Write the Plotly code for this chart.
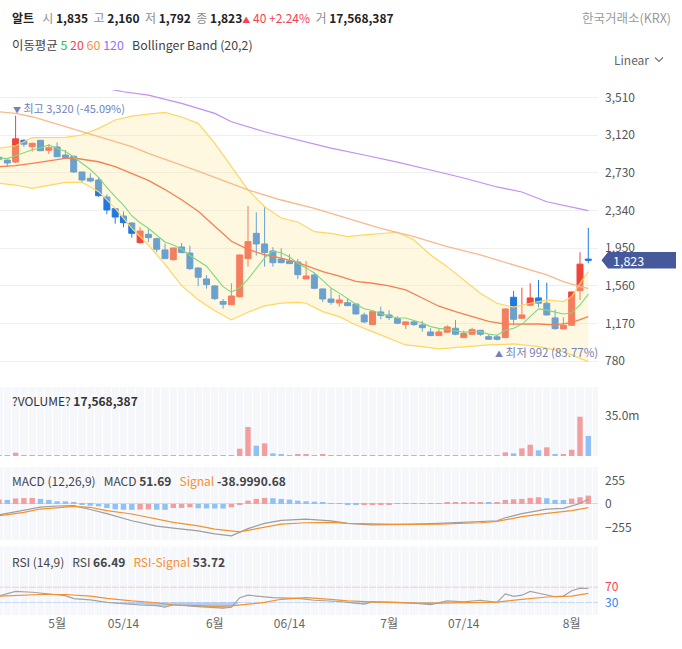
import numpy as np
import pandas as pd
import plotly.graph_objects as go
from plotly.subplots import make_subplots

# ---- data -------------------------------------------------------------
# KRX sessions shown on the chart (holidays / missing session removed)
closed_days = ["2021-05-05", "2021-05-19", "2021-06-24"]
dates = [d.strftime("%Y-%m-%d") for d in pd.bdate_range("2021-04-22", "2021-08-04")
         if d.strftime("%Y-%m-%d") not in closed_days]

opens = [2890, 2860, 2840, 3065, 2999, 3065, 2961, 2996, 2913, 2900,
         2737, 2672, 2654, 2478, 2357, 2281, 2209, 2005, 2092, 2047,
         1930, 1829, 1961, 1898, 1743, 1630, 1557, 1395, 1363, 1446,
         1840, 2102, 1992, 1919, 1836, 1816, 1805, 1630, 1671, 1526,
         1422, 1381, 1384, 1370, 1257, 1157, 1288, 1257, 1219, 1157,
         1185, 1153, 1081, 1043, 1078, 1119, 1022, 1057, 1098, 1032,
         1030, 1022, 1440, 1222, 1357, 1433, 1378, 1226, 1112, 1150,
         1508, 1835]
highs = [2900, 2865, 3320, 3075, 3040, 3068, 3024, 3044, 2965, 2905,
         2740, 2723, 2685, 2506, 2362, 2330, 2215, 2168, 2144, 2057,
         1995, 1952, 2002, 1974, 1750, 1671, 1567, 1422, 1585, 1880,
         2385, 2320, 2375, 1958, 1947, 1885, 1836, 1816, 1695, 1530,
         1529, 1464, 1422, 1375, 1281, 1295, 1343, 1305, 1243, 1188,
         1205, 1195, 1119, 1119, 1150, 1205, 1095, 1126, 1100, 1057,
         1050, 1326, 1505, 1539, 1585, 1619, 1591, 1312, 1233, 1497,
         1906, 2160]
lows = [2860, 2790, 2830, 2995, 2947, 2955, 2923, 2893, 2880, 2727,
        2630, 2630, 2481, 2299, 2202, 2164, 2057, 1995, 2012, 1906,
        1835, 1819, 1898, 1723, 1554, 1529, 1409, 1322, 1360, 1436,
        1757, 1871, 1757, 1757, 1792, 1785, 1630, 1628, 1523, 1391,
        1363, 1343, 1350, 1260, 1171, 1155, 1212, 1205, 1160, 1112,
        1143, 1084, 1040, 1040, 1075, 1047, 1020, 1050, 1040, 1000,
        992, 1015, 1150, 1215, 1350, 1336, 1250, 1102, 1110, 1148,
        1412, 1792]
closes = [2870, 2830, 3080, 3025, 3034, 2957, 2988, 2895, 2885, 2737,
          2654, 2644, 2492, 2344, 2271, 2212, 2102, 2126, 2057, 1937,
          1840, 1950, 1902, 1736, 1647, 1571, 1426, 1368, 1453, 1878,
          2016, 1992, 1902, 1798, 1798, 1788, 1674, 1660, 1533, 1422,
          1388, 1412, 1353, 1267, 1185, 1291, 1250, 1229, 1171, 1185,
          1157, 1125, 1043, 1081, 1133, 1057, 1064, 1105, 1057, 1005,
          1005, 1319, 1212, 1257, 1433, 1378, 1257, 1115, 1150, 1495,
          1783, 1823]
volumes = [400000, 350000, 2900000, 600000, 450000, 350000, 300000, 250000, 200000, 550000,
           400000, 300000, 500000, 600000, 500000, 350000, 300000, 450000, 350000, 300000,
           500000, 420000, 300000, 450000, 350000, 300000, 250000, 200000, 700000, 6400000,
           25400000, 9000000, 11100000, 2300000, 1500000, 800000, 900000, 950000, 850000, 900000,
           800000, 850000, 300000, 250000, 300000, 350000, 250000, 200000, 250000, 220000,
           200000, 240000, 260000, 220000, 250000, 230000, 200000, 240000, 210000, 190000,
           250000, 3200000, 2300000, 6700000, 9900000, 5000000, 7600000, 900000, 950000, 5500000,
           34400000, 17568387]

ma5 = [2883, 2876, 2906, 2941, 2968, 2985, 3017, 2980, 2952, 2892,
       2832, 2763, 2682, 2574, 2481, 2393, 2284, 2211, 2154, 2087,
       2012, 1982, 1937, 1873, 1815, 1761, 1656, 1550, 1493, 1539,
       1628, 1741, 1848, 1917, 1901, 1856, 1792, 1744, 1691, 1615,
       1535, 1483, 1422, 1368, 1321, 1302, 1269, 1244, 1225, 1225,
       1198, 1173, 1136, 1118, 1108, 1088, 1076, 1088, 1083, 1058,
       1047, 1098, 1120, 1160, 1245, 1320, 1307, 1288, 1267, 1279,
       1360, 1473]

ma20_idx = [0, 2, 4, 6, 8, 9, 11, 12, 14, 16, 18, 20, 22, 24, 26, 28, 30, 32, 34,
            36, 39, 41, 43, 45, 47, 49, 51, 53, 55, 57, 59, 61, 63, 65, 67, 69, 71]
ma20 = [2792, 2802, 2827, 2854, 2879, 2882, 2861, 2843, 2792, 2723, 2650, 2555, 2450,
        2330, 2175, 2020, 1935, 1880, 1845, 1798, 1705, 1660, 1605, 1585, 1557, 1516,
        1432, 1347, 1291, 1239, 1190, 1162, 1160, 1163, 1153, 1178, 1240]

ma60_idx = [0, 2, 4, 6, 8, 10, 12, 14, 16, 18, 24, 30, 34, 38, 42, 46, 50, 54, 58,
            62, 66, 68, 70, 71]
ma60 = [3361, 3344, 3309, 3257, 3206, 3154, 3102, 3050, 2999, 2930, 2745, 2551, 2447,
        2361, 2258, 2154, 2067, 1964, 1878, 1774, 1671, 1601, 1550, 1533]

ma120_idx = [13, 15, 18, 22, 26, 28, 32, 36, 40, 44, 48, 52, 56, 60, 63, 66, 71]
ma120 = [3600, 3568, 3533, 3448, 3344, 3257, 3154, 3068, 2985, 2913, 2840, 2758, 2675,
         2582, 2530, 2429, 2337]

bbu_idx = [0, 2, 4, 6, 8, 10, 12, 14, 16, 18, 20, 22, 24, 26, 28, 30, 32, 34, 36, 38,
           40, 42, 44, 46, 48, 50, 52, 54, 56, 58, 60, 62, 64, 66, 68, 69, 70, 71]
bb_upper = [2982, 3009, 3092, 3096, 3096, 3120, 3189, 3275, 3316, 3337, 3355, 3306, 3241,
            3034, 2792, 2551, 2378, 2261, 2219, 2119, 2102, 2067, 2085, 2100, 2113, 2033,
            1878, 1757, 1619, 1481, 1378, 1337, 1378, 1412, 1395, 1446, 1585, 1705]

bbl_idx = [0, 2, 4, 6, 8, 10, 12, 14, 16, 18, 20, 22, 24, 26, 28, 30, 32, 34, 36, 37,
           39, 41, 43, 45, 47, 49, 51, 53, 56, 59, 62, 65, 68, 71]
bb_lower = [2620, 2602, 2568, 2602, 2630, 2630, 2533, 2361, 2154, 1981, 1780, 1560, 1415,
            1300, 1205, 1285, 1350, 1380, 1388, 1378, 1291, 1239, 1153, 1084, 1016, 946,
            929, 905, 926, 946, 957, 929, 877, 773]

macd_idx = [0, 3, 5, 7, 9, 11, 13, 16, 19, 21, 24, 26, 28, 30, 32, 34, 37, 40, 42, 45,
            48, 50, 53, 56, 58, 60, 61, 63, 66, 68, 70, 71]
macd = [-117, -70, -35, -22, -18, -60, -105, -182, -240, -262, -292, -325, -346, -268,
        -210, -178, -164, -183, -210, -226, -226, -219, -211, -200, -189, -182, -150,
        -105, -57, -47, 5, 51.69]

sig_idx = [0, 3, 5, 8, 9, 11, 13, 16, 19, 21, 24, 26, 29, 32, 34, 37, 40, 42, 45, 48,
           53, 58, 60, 63, 66, 69, 71]
macd_signal = [-128, -91, -55, -29, -27, -36, -73, -109, -164, -200, -237, -273, -302,
               -255, -219, -204, -200, -211, -219, -222, -219, -204, -189, -138, -102,
               -73, -38.99]

macd_hist = [48, 44, 60, 64, 66, 55, 44, 29, 28, 11,
             -2, -18, -26, -44, -58, -62, -63, -61, -60, -62,
             -64, -44, -43, -36, -47, -48, -49, -50, -36, -4,
             36, 55, 66, 62, 55, 47, 36, 29, 25, 11,
             4, 1, -7, -8, -7, -5, -3, -1, 1, 4,
             8, 9, 9.5, 10, 11, 15, 16, 17, 18, 15,
             18, 44, 51, 55, 66, 73, 62, 44, 43, 58,
             73, 90.68]

rsi_idx = [0, 2, 4, 6, 8, 9, 11, 13, 15, 17, 19, 20, 21, 22, 24, 27, 28, 29, 30, 33,
           36, 38, 41, 44, 45, 48, 50, 52, 54, 56, 58, 60, 61, 62, 63, 64, 66, 67, 68,
           69, 70, 71]
rsi = [47, 59, 56.7, 53, 48, 40, 36.7, 30, 25.8, 23.3, 21.7, 17.5, 24, 21.7, 19, 15,
       17.5, 42.5, 49, 42.5, 40.8, 35.8, 32.5, 25.8, 31.7, 30, 28.3, 24.2, 34, 31.7,
       35.8, 30, 52.5, 45.8, 49, 59, 50.8, 45, 46.7, 60.8, 67.5, 66.49]

rsis_idx = [0, 5, 8, 11, 13, 16, 19, 21, 24, 26, 28, 32, 34, 37, 40, 42, 45, 48, 50,
            53, 56, 58, 60, 63, 66, 69, 71]
rsi_signal = [46.7, 50.8, 50.8, 46.7, 40.8, 34, 29.2, 23.3, 21.7, 20, 20.8, 30, 38.3,
              42.5, 38.3, 34, 31.7, 29.2, 28.3, 28.3, 30, 30, 30.8, 38.3, 44.2, 46.7,
              53.72]

tick_dates = ["2021-05-03", "2021-05-14", "2021-06-01", "2021-06-14",
              "2021-07-01", "2021-07-14", "2021-08-02"]
tick_text = ["5월", "05/14", "6월", "06/14", "7월", "07/14", "8월"]

price_ticks = [780, 1170, 1560, 1950, 2340, 2730, 3120, 3510]

# ---- style ------------------------------------------------------------
FONT = "Noto Sans CJK KR"
RED, BLUE = "#f0443a", "#1f7ae3"
VRED, VBLUE = "#f39e9e", "#8ec1f6"
NB = "\u00a0"

W_PLOT, TOP, BOT = 598, 90, 615
H_PLOT = BOT - TOP


def px(x):
    return x / W_PLOT


def py(y):
    return (BOT - y) / H_PLOT


def at(idx):
    return [dates[i] for i in idx]


fig = make_subplots(rows=4, cols=1, shared_xaxes=True, vertical_spacing=0.0)

# bollinger band
fig.add_trace(go.Scatter(x=at(bbu_idx), y=bb_upper, mode="lines",
                         line=dict(color="#fdd663", width=1.2), hoverinfo="skip"), 1, 1)
fig.add_trace(go.Scatter(x=at(bbl_idx), y=bb_lower, mode="lines", fill="tonexty",
                         fillcolor="rgba(252,234,165,0.35)",
                         line=dict(color="#fdd663", width=1.2), hoverinfo="skip"), 1, 1)
# moving averages
fig.add_trace(go.Scatter(x=at(ma120_idx), y=ma120, mode="lines",
                         line=dict(color="#c18ff4", width=1.2)), 1, 1)
fig.add_trace(go.Scatter(x=at(ma60_idx), y=ma60, mode="lines",
                         line=dict(color="#f8b98c", width=1.3)), 1, 1)
fig.add_trace(go.Scatter(x=at(ma20_idx), y=ma20, mode="lines",
                         line=dict(color="#f5804f", width=1.3)), 1, 1)
fig.add_trace(go.Scatter(x=dates, y=ma5, mode="lines",
                         line=dict(color="#7fd97a", width=1.1)), 1, 1)
fig.add_trace(go.Candlestick(x=dates, open=opens, high=highs, low=lows, close=closes,
                             increasing=dict(line=dict(color=RED, width=1), fillcolor=RED),
                             decreasing=dict(line=dict(color=BLUE, width=1), fillcolor=BLUE),
                             whiskerwidth=0), 1, 1)

# volume (colour follows the change in volume)
vol_col = [VRED if i == 0 or v >= volumes[i - 1] else VBLUE for i, v in enumerate(volumes)]
fig.add_trace(go.Bar(x=dates, y=volumes, marker=dict(color=vol_col, line_width=0)), 2, 1)

# macd
hist_col = [VRED if i == 0 or v >= macd_hist[i - 1] else VBLUE for i, v in enumerate(macd_hist)]
fig.add_trace(go.Bar(x=dates, y=macd_hist, marker=dict(color=hist_col, line_width=0)), 3, 1)
fig.add_trace(go.Scatter(x=at(macd_idx), y=macd, mode="lines",
                         line=dict(color="#9d9d9d", width=1.2)), 3, 1)
fig.add_trace(go.Scatter(x=at(sig_idx), y=macd_signal, mode="lines",
                         line=dict(color="#f5912c", width=1.2)), 3, 1)

# rsi
fig.add_trace(go.Scatter(x=[dates[0], dates[-1]], y=[30, 30], mode="lines",
                         line=dict(width=0), hoverinfo="skip"), 4, 1)
fig.add_trace(go.Scatter(x=at(rsi_idx), y=np.minimum(rsi, 30), mode="lines", fill="tonexty",
                         fillcolor="rgba(120,172,236,0.55)", line=dict(width=0),
                         hoverinfo="skip"), 4, 1)
fig.add_trace(go.Scatter(x=at(rsi_idx), y=rsi, mode="lines",
                         line=dict(color="#a3a3a3", width=1.2)), 4, 1)
fig.add_trace(go.Scatter(x=at(rsis_idx), y=rsi_signal, mode="lines",
                         line=dict(color="#f5912c", width=1.2)), 4, 1)

# ---- axes -------------------------------------------------------------
xr = [0.12, 72.17]
for r in range(1, 5):
    fig.update_xaxes(row=r, col=1, type="category", categoryorder="array",
                     categoryarray=dates, range=xr, showline=False, zeroline=False,
                     ticks="", rangeslider_visible=False, fixedrange=True)
fig.update_xaxes(row=1, col=1, showgrid=False, showticklabels=False)
for r in (2, 3):
    fig.update_xaxes(row=r, col=1, showgrid=True, gridcolor="#ffffff", gridwidth=1,
                     tickson="boundaries", tickvals=dates, showticklabels=False)
fig.update_xaxes(row=4, col=1, showgrid=True, gridcolor="#ffffff", gridwidth=1,
                 tickson="boundaries", tickvals=dates, tickangle=0,
                 ticktext=[tick_text[tick_dates.index(d)] if d in tick_dates else ""
                           for d in dates],
                 showticklabels=True, tickfont=dict(size=12, color="#666666"))

axis_font = dict(size=12, color="#555555", family=FONT)
fig.update_yaxes(row=1, col=1, side="right", range=[635, 3586], tickvals=price_ticks,
                 tickformat=",d", showgrid=True, gridcolor="#efeff1", zeroline=False,
                 ticks="", ticklabelstandoff=6, tickfont=axis_font)
fig.update_yaxes(row=2, col=1, side="right", range=[0, 60.4e6], tickvals=[35e6],
                 ticktext=["35.0m"], showgrid=False, zeroline=False, ticks="",
                 ticklabelstandoff=6, tickfont=axis_font)
fig.update_yaxes(row=3, col=1, side="right", range=[-391, 401], tickvals=[255, 0, -255],
                 showgrid=False, zeroline=True, zerolinecolor="#dadada", zerolinewidth=1,
                 ticks="", ticklabelstandoff=6, tickfont=axis_font)
fig.update_yaxes(row=4, col=1, side="right", range=[-2.8, 176.3], tickvals=[70, 30],
                 ticktext=["<span style='color:#f04452'>70</span>",
                           "<span style='color:#3182f6'>30</span>"],
                 showgrid=False, zeroline=False, ticks="", ticklabelstandoff=6,
                 tickfont=axis_font)

fig.layout.yaxis.domain = [py(375), 1]
fig.layout.yaxis2.domain = [py(456), py(387)]
fig.layout.yaxis3.domain = [py(540), py(467)]
fig.layout.yaxis4.domain = [0, py(546.5)]

# ---- shapes -----------------------------------------------------------
shapes = []
for n in (2, 3, 4):
    shapes.append(dict(type="rect", xref=f"x{n} domain", yref=f"y{n} domain",
                       x0=0, x1=1, y0=0, y1=1, fillcolor="#f6f7fb", line_width=0,
                       layer="below"))
shapes.append(dict(type="line", xref="x4 domain", yref="y4", x0=0, x1=1, y0=70, y1=70,
                   line=dict(color="#f5c9cd", width=1), layer="below"))
shapes.append(dict(type="line", xref="x4 domain", yref="y4", x0=0, x1=1, y0=30, y1=30,
                   line=dict(color="#c4d9f3", width=1), layer="below"))
last = closes[-1]
half = 8.2 * (3586 - 635) / (375 - TOP)
shapes.append(dict(type="path", xref="paper", yref="y",
                   path=(f"M {px(601.5)},{last} L {px(608)},{last + half} "
                         f"L {px(676)},{last + half} L {px(676)},{last - half} "
                         f"L {px(608)},{last - half} Z"),
                   fillcolor="#46599b", line_width=0))
shapes.append(dict(type="path", xref="paper", yref="paper",
                   path=f"M {px(655)},{py(57.5)} L {px(659)},{py(61.5)} L {px(663)},{py(57.5)}",
                   line=dict(color="#777777", width=1.2)))

# ---- annotations ------------------------------------------------------
hi_i = int(np.argmax(highs))
lo_i = int(np.argmin(lows))
hi, lo = highs[hi_i], lows[lo_i]
chg = closes[-1] - closes[-2]
g = "color:#8d8d8d"
header = (f"<b>알트</b>{NB * 3}<span style='{g}'>시</span>{NB}<b>{opens[-1]:,}</b>{NB * 2}"
          f"<span style='{g}'>고</span>{NB}<b>{highs[-1]:,}</b>{NB * 2}"
          f"<span style='{g}'>저</span>{NB}<b>{lows[-1]:,}</b>{NB * 2}"
          f"<span style='{g}'>종</span>{NB}<b>{closes[-1]:,}</b>"
          f"<span style='color:#f04452'><span style='font-size:8px'>▲</span>{NB}{chg}{NB}"
          f"+{chg / closes[-2] * 100:.2f}%</span>{NB * 2}"
          f"<span style='{g}'>거</span>{NB}<b>{volumes[-1]:,}</b>")
legend = ("이동평균" + NB + "<span style='color:#2dbd3c'>5</span>" + NB
          + "<span style='color:#f04452'>20</span>" + NB
          + "<span style='color:#f5923e'>60</span>" + NB
          + "<span style='color:#9b6cf2'>120</span>" + NB * 3 + "Bollinger Band (20,2)")
orange = "color:#f5912c"
vol_lbl = f"?VOLUME?{NB}<b>{volumes[-1]:,}</b>"
macd_lbl = (f"MACD (12,26,9){NB * 3}MACD{NB}<b>{macd[-1]:.2f}</b>{NB * 3}"
            f"<span style='{orange}'>Signal</span>{NB}"
            f"<b>{macd_signal[-1]:.2f}{macd_hist[-1]:.2f}</b>")
rsi_lbl = (f"RSI (14,9){NB * 3}RSI{NB}<b>{rsi[-1]:.2f}</b>{NB * 3}"
           f"<span style='{orange}'>RSI-Signal</span>{NB}<b>{rsi_signal[-1]:.2f}</b>")

ann = [
    dict(x=px(10), y=py(18), text=header, font=dict(size=12, color="#222222")),
    dict(x=px(10), y=py(45), text=legend, font=dict(size=12.4, color="#444444")),
    dict(x=px(673), y=py(18), text="한국거래소(KRX)", xanchor="right",
         font=dict(size=12.5, color="#9a9a9a")),
    dict(x=px(651), y=py(59), text="Linear", xanchor="right",
         font=dict(size=12, color="#666666")),
    dict(x=px(10), y=py(400), text=vol_lbl, font=dict(size=12, color="#333333")),
    dict(x=px(10), y=py(480), text=macd_lbl, font=dict(size=12, color="#444444")),
    dict(x=px(10), y=py(561), text=rsi_lbl, font=dict(size=12, color="#444444")),
    dict(x=px(611), y=last, yref="y", text=f"{last:,}", font=dict(size=12.5, color="#ffffff")),
]
for a in ann:
    a.setdefault("xref", "paper")
    a.setdefault("yref", "paper")
    a.setdefault("xanchor", "left")
    a.setdefault("yanchor", "middle")
    a.update(showarrow=False)
ann.append(dict(x=dates[hi_i], y=hi, xref="x", yref="y", xanchor="left", yanchor="bottom",
                xshift=-5, yshift=-2, showarrow=False,
                text=(f"<span style='font-size:8px'>▼</span>{NB}최고{NB}{hi:,}{NB}"
                      f"({(closes[-1] - hi) / hi * 100:.2f}%)"),
                font=dict(size=11, color="#7282b6")))
ann.append(dict(x=dates[lo_i], y=lo, xref="x", yref="y", xanchor="left", yanchor="top",
                xshift=-4, yshift=-1, showarrow=False,
                text=(f"<span style='font-size:8px'>▲</span>{NB}최저{NB}{lo:,}{NB}"
                      f"({(closes[-1] - lo) / lo * 100:.2f}%)"),
                font=dict(size=11.5, color="#7282b6")))

fig.update_layout(
    width=682, height=649,
    margin=dict(l=0, r=682 - W_PLOT, t=TOP, b=649 - BOT),
    paper_bgcolor="#ffffff", plot_bgcolor="#ffffff",
    font=dict(family=FONT, color="#333333"),
    showlegend=False, bargap=0.35, boxgap=0.28, boxgroupgap=0,
    shapes=shapes, annotations=ann,
    hovermode=False,
)

fig.write_html("out.html", config={"displayModeBar": False},
               post_script="document.body.style.margin='0px';")
